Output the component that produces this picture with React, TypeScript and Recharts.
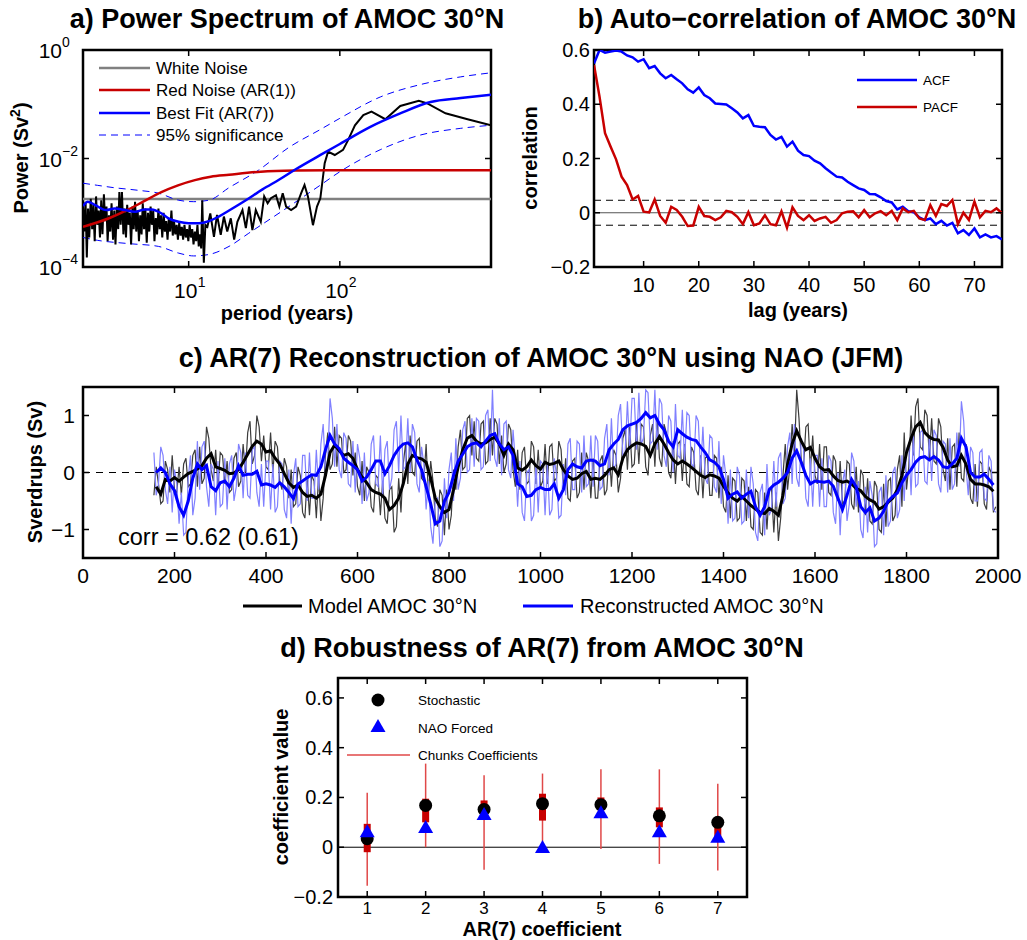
import React from "react";
import {
  ComposedChart,
  LineChart,
  Line,
  Scatter,
  XAxis,
  YAxis,
  ReferenceArea,
  ReferenceLine,
} from "recharts";

const FONT = '"Liberation Sans", Arial, Helvetica, sans-serif';
const MINUS = "\u2212";
const BLUE = "#0000ff";
const RED = "#c80000";

// ---------- a) power spectrum ----------
const specPeriod = [
  2.0, 2.04, 2.08, 2.12, 2.16, 2.2, 2.25, 2.3, 2.34, 2.39, 2.44, 2.49, 2.54, 2.59, 2.64, 2.69, 2.75, 2.8, 2.86, 2.91,
  2.97, 3.03, 3.09, 3.16, 3.22, 3.28, 3.35, 3.42, 3.48, 3.55, 3.62, 3.7, 3.77, 3.85, 3.92, 4.0, 4.08, 4.16, 4.25, 4.33,
  4.42, 4.5, 4.6, 4.69, 4.78, 4.88, 4.97, 5.07, 5.17, 5.28, 5.38, 5.49, 5.6, 5.71, 5.83, 5.94, 6.06, 6.18, 6.31, 6.43,
  6.56, 6.69, 6.83, 6.96, 7.1, 7.25, 7.39, 7.54, 7.69, 7.85, 8.0, 8.16, 8.33, 8.49, 8.66, 8.84, 9.01, 9.19, 9.38, 9.57,
  9.76, 9.95, 10.15, 10.35, 10.56, 10.77, 10.99, 11.21, 11.43, 11.66, 11.9, 12.1, 12.3, 12.6, 12.9,
  13.3, 13.9, 14.7, 15.4, 16.3, 17.1, 18.0, 19.0, 20.0, 21.0, 22.7, 23.9, 25.1, 26.4, 27.8, 30.0, 31.6, 33.3, 35.0, 37.8,
  39.8, 41.9, 44.1, 47.6, 51.4, 55.5, 58.4, 61.5, 66.4, 70.6, 74.3,
  79.4, 83.6, 92.6, 105, 113.6, 125.9, 143, 162, 200, 251, 333, 379, 500, 700, 1000,
];
const specPower = [
  1.3e-3, 4.5e-4, 1.6e-3, 1.5e-4, 1.2e-3, 3.5e-4, 1.8e-3, 5e-4, 1.4e-3, 3e-4, 2e-3, 6e-4, 1.1e-3, 3.5e-4, 1.7e-3, 4e-4, 2.2e-3, 7e-4, 1.3e-3, 3e-4,
  9e-4, 4.5e-4, 1.5e-3, 3.2e-4, 1.1e-3, 2.6e-4, 1.3e-3, 5e-4, 2.4e-3, 6e-4, 2.4e-3, 4e-4, 1.2e-3, 3.5e-4, 1.4e-3, 6e-4, 1e-3, 2.6e-4, 1.3e-3, 5e-4,
  1.6e-3, 4.5e-4, 1.1e-3, 3e-4, 9e-4, 4e-4, 1.5e-3, 5e-4, 1.2e-3, 2.8e-4, 1e-3, 4.5e-4, 1.3e-3, 6e-4, 1.1e-3, 3e-4, 8e-4, 4e-4, 1.2e-3, 5e-4,
  9e-4, 3.5e-4, 1e-3, 4.5e-4, 7e-4, 3.2e-4, 8e-4, 4.5e-4, 1.1e-3, 3.8e-4, 7e-4, 4e-4, 6e-4, 3.2e-4, 6.5e-4, 3.8e-4, 5.5e-4, 3.2e-4, 6e-4, 3.5e-4,
  5e-4, 3e-4, 6e-4, 3.5e-4, 5e-4, 2.6e-4, 4.5e-4, 3e-4, 6e-4, 2.4e-4, 4e-4, 2.2e-4, 1.7e-3, 1.2e-4, 6e-4,
  5.5e-4, 9.7e-4, 3.6e-4, 9.1e-4, 3.9e-4, 8.5e-4, 4.5e-4, 7.9e-4, 3.2e-4, 6.8e-4, 1.12e-3, 5.2e-4, 1.3e-3, 4.8e-4, 1.12e-3, 6.8e-4, 2.0e-3, 1.5e-3, 1.85e-3, 2.1e-3,
  1.3e-3, 2.3e-3, 1.3e-3, 1.12e-3, 1.3e-3, 2.3e-3, 3.25e-3, 2.0e-3, 5.9e-4, 1.3e-3, 1.85e-3,
  8.2e-3, 1.34e-2, 1.16e-2, 1.44e-2, 2.2e-2, 4.1e-2, 6.3e-2, 7.3e-2, 5.3e-2, 9.3e-2, 0.116, 0.104, 0.068, 0.053, 0.041,
];
const whitePeriod = [2, 1000];
const whitePower = [1.8e-3, 1.8e-3];
const redPeriod = [2, 3, 4, 5, 6.6, 8.5, 11, 14, 18.5, 30, 50, 100, 1000];
const redPower = [5.5e-4, 8e-4, 1.15e-3, 1.6e-3, 2.4e-3, 3.2e-3, 4e-3, 4.6e-3, 5.0e-3, 5.7e-3, 6.0e-3, 6.1e-3, 6.1e-3];
const fitPeriod = [2.0, 2.15, 2.39, 2.85, 3.24, 3.79, 4.41, 5.14, 5.7, 6.5, 7.36, 8.58, 10, 11.7, 13.6, 15.8, 18.5, 23.9, 30.8, 39.8, 51.4, 74, 100, 158, 251, 398, 631, 1000];
const fitPower = [1.33e-3, 1.6e-3, 1.4e-3, 1.12e-3, 1.2e-3, 1.12e-3, 1.04e-3, 1.15e-3, 1.15e-3, 1.0e-3, 7.9e-4, 6.8e-4, 6.4e-4, 6.4e-4, 7e-4, 8.5e-4, 1.1e-3, 1.7e-3, 2.7e-3, 4.1e-3, 6.4e-3, 1.15e-2, 1.85e-2, 3.8e-2, 6.8e-2, 0.11, 0.13, 0.15];
const upperPeriod = [2, 2.5, 3.2, 4.6, 6.3, 8.6, 10.8, 13.6, 18.5, 29, 46, 74, 100, 185, 340, 631, 1000];
const upperPower = [3.5e-3, 3.2e-3, 2.9e-3, 2.6e-3, 2.3e-3, 1.7e-3, 1.6e-3, 1.7e-3, 2.9e-3, 6.1e-3, 1.6e-2, 3.4e-2, 5.5e-2, 0.136, 0.23, 0.32, 0.38];
const lowerPeriod = [2, 2.5, 4, 6.3, 8.6, 10.8, 13.6, 18.5, 25, 46, 74, 100, 185, 340, 631, 1000];
const lowerPower = [3.5e-4, 3.1e-4, 2.7e-4, 2.4e-4, 1.8e-4, 1.6e-4, 1.7e-4, 2.4e-4, 4.2e-4, 1.3e-3, 3.2e-3, 5.7e-3, 1.45e-2, 2.7e-2, 3.6e-2, 4.1e-2];

// ---------- b) auto-correlation ----------
const lags = Array.from({ length: 75 }, (_, i) => i + 1);
const acf = [
  0.55, 0.6, 0.59, 0.594, 0.598, 0.594, 0.58, 0.573, 0.557, 0.566,
  0.533, 0.541, 0.514, 0.496, 0.508, 0.492, 0.477, 0.455, 0.443, 0.462,
  0.434, 0.422, 0.403, 0.401, 0.399, 0.385, 0.37, 0.348, 0.36, 0.32,
  0.317, 0.315, 0.287, 0.27, 0.28, 0.244, 0.262, 0.229, 0.213, 0.209,
  0.192, 0.182, 0.164, 0.148, 0.133, 0.13, 0.114, 0.102, 0.09, 0.084,
  0.069, 0.068, 0.057, 0.043, 0.038, 0.012, 0.022, 0.006, 0.002, -0.017,
  -0.027, -0.021, -0.042, -0.03, -0.047, -0.037, -0.076, -0.064, -0.082, -0.058,
  -0.091, -0.08, -0.091, -0.086, -0.098,
];
const pacf = [
  0.545, 0.428, 0.293, 0.244, 0.197, 0.133, 0.102, 0.049, 0.062, 0.004,
  0.001, 0.049, -0.012, -0.037, 0.022, 0.01, -0.015, -0.049, -0.047, 0.022,
  -0.012, -0.015, -0.027, -0.017, 0.007, 0.002, -0.015, -0.042, 0.002, -0.046,
  -0.039, -0.009, -0.042, -0.046, 0.005, -0.055, 0.02, -0.012, -0.027, -0.009,
  -0.03, -0.021, -0.015, -0.037, -0.027, -0.002, 0.004, 0.005, -0.017, 0.01,
  -0.017, -0.002, 0.006, -0.009, 0.007, -0.027, 0.016, 0.002, 0.007, -0.021,
  -0.027, 0.028, -0.012, 0.032, 0.025, 0.047, -0.042, 0, -0.027, 0.041,
  -0.017, 0.007, 0.002, 0.016, -0.002,
];
const sigLevel = 0.046;

// ---------- c) reconstruction ----------
const annualYears = Array.from({ length: 369 }, (_, i) => 155 + 5 * i);
const smoothYears = Array.from({ length: 184 }, (_, i) => 160 + 10 * i);
const modelAnnual = [
  -0.4, 0.1, -0.2, -0.55, -0.5, 0.2, 0.05, -0.35, 0.3, -0.3, -0.35, 0.1, -0.4, 0.15, 0.25, -0.25, -0.2, 0.3, 0.4, -0.25,
  0.45, -0.2, -0.1, 0.8, 0.6, 0.05, -0.15, 0.4, -0.25, 0.35, 0.3, -0.2, 0.2, -0.35, -0.3, 0.25, 0.35, -0.25, -0.15, 0.5,
  0.0, 0.7, 0.9, 0.15, 0.3, 1.0, 0.8, 0.2, 0.65, 0.1, 0.05, 0.7, 0.0, 0.55, 0.45, -0.15, -0.3, 0.25, 0.1, -0.45,
  0.05, -0.6, -0.55, 0.1, -0.05, -0.7, -0.8, -0.1, -0.75, -0.05, -0.15, -0.8, -0.05, -0.85, -0.45, 0.3, 0.7, 0.05, 0.15, 0.8,
  0.1, 0.65, 0.6, 0.0, 0.05, 0.65, 0.55, -0.05, 0.35, -0.25, -0.4, 0.2, -0.5, 0.1, 0.0, -0.6, -0.7, -0.05, -0.1, -0.75,
  -0.15, -0.8, -0.9, -0.3, -0.25, -1.05, -0.95, -0.1, -0.7, 0.15, 0.5, -0.2, 0.65, 0.0, -0.05, 0.55, 0.6, -0.1, -0.15, 0.5,
  -0.4, 0.2, -0.15, -0.8, -0.95, -0.3, -0.4, -1.1, -0.3, -1.0, -0.75, 0.05, -0.3, 0.45, 0.75, 0.05, 0.1, 0.95, 1.0, 0.3,
  0.9, 0.25, 0.2, 0.85, 0.9, 0.15, 0.2, 0.95, 0.3, 0.95, 0.85, 0.15, 0.65, 0.0, 0.15, 0.85, 0.75, 0.05, -0.25, 0.4,
  -0.3, 0.35, 0.45, -0.2, -0.15, 0.55, 0.45, -0.2, 0.4, -0.25, -0.15, 0.5, -0.2, 0.45, 0.5, -0.15, -0.1, 0.55, 0.4, -0.3,
  0.25, -0.45, -0.5, 0.2, 0.25, -0.45, -0.35, 0.35, -0.3, 0.35, 0.2, -0.45, 0.25, -0.45, -0.45, 0.2, 0.3, -0.4, -0.3, 0.4,
  -0.25, 0.4, 0.3, -0.35, -0.1, 0.6, 0.75, 0.05, 0.8, 0.1, 0.15, 0.85, 0.15, 0.85, 0.8, 0.1, -0.05, 0.65, 0.85, 0.1,
  0.95, 0.25, 0.1, 0.85, 0.7, 0.0, -0.1, 0.55, -0.2, 0.5, 0.55, -0.15, 0.5, -0.2, -0.25, 0.45, 0.35, -0.3, -0.4, 0.3,
  -0.45, 0.25, 0.3, -0.4, -0.4, 0.3, 0.25, -0.45, 0.1, -0.6, -0.7, -0.05, -0.8, -0.1, -0.15, -0.85, -0.8, -0.1, -0.15, -0.85,
  -0.25, -0.95, -1.0, -0.3, -0.35, -1.05, -1.1, -0.35, -1.0, -0.3, -0.3, -1.05, -0.35, -1.2, -0.8, -0.05, 0.5, -0.3, 0.1, 0.85,
  0.3, 1.45, 0.95, 0.2, 0.1, 0.8, 0.85, 0.05, 0.65, -0.05, -0.2, 0.5, -0.3, 0.45, 0.45, -0.35, -0.4, 0.3, 0.2, -0.5,
  0.2, -0.55, -0.5, 0.2, 0.15, -0.55, -0.65, 0.1, -0.7, 0.05, -0.05, -0.75, -0.1, -0.85, -0.9, -0.15, -0.25, -1.0, -1.05, -0.2,
  -0.95, -0.15, -0.1, -0.85, -0.75, 0.05, 0.3, -0.6, 0.7, -0.3, 0.1, 1.0, 0.3, 1.15, 1.3, 0.45, 0.4, 1.1, 1.0, 0.25,
  0.95, 0.2, 0.15, 0.95, 0.8, 0.05, -0.15, 0.6, -0.3, 0.45, 0.5, -0.25, 0.7, -0.1, -0.15, 0.5, 0.25, -0.45, -0.55, 0.15,
  -0.6, 0.2, 0.15, -0.55, -0.65, 0.1, 0.0, -0.7, -0.6,
];
const reconAnnual = [
  0.35, -0.4, -0.2, 0.45, 0.3, -0.3, -0.55, 0.1, -0.7, 0.05, -0.2, -0.9, -0.35, -1.1, -1.05, -0.1, 0.3, -0.75, -0.45, 0.55,
  -0.3, 0.45, 0.55, -0.25, -0.6, 0.15, 0.05, -0.75, 0.2, -0.6, -0.55, 0.25, -0.65, 0.15, 0.3, -0.5, -0.25, 0.5, 0.35, -0.45,
  0.35, -0.4, -0.45, 0.4, 0.45, -0.35, -0.6, 0.15, -0.6, 0.2, 0.2, -0.65, 0.15, -0.7, -0.6, 0.2, 0.15, -0.65, -0.8, 0.05,
  -0.9, -0.05, 0.25, -0.6, -0.55, 0.3, 0.3, -0.5, 0.35, -0.45, -0.45, 0.4, -0.3, 0.5, 0.85, 0.0, 0.25, 1.3, 0.95, 0.1,
  0.85, 0.05, -0.1, 0.7, 0.6, -0.2, -0.25, 0.55, -0.35, 0.5, 0.25, -0.55, 0.35, -0.5, -0.35, 0.5, 0.65, -0.2, -0.25, 0.65,
  -0.4, 0.4, 0.55, -0.3, -0.1, 0.75, 0.9, 0.0, 1.0, 0.05, 0.1, 0.95, 0.0, 0.85, 0.7, -0.2, -0.35, 0.45, 0.15, -0.65,
  -0.15, -0.95, -1.25, -0.5, -0.45, -1.3, -1.2, -0.1, -0.8, 0.05, 0.35, -0.5, 0.6, -0.3, -0.1, 0.75, 0.9, 0.0, 0.05, 0.95,
  0.1, 0.95, 0.9, 0.05, 0.1, 1.0, 1.1, 0.2, 1.45, 0.25, 0.1, 0.95, -0.05, 0.85, 0.9, 0.05, -0.1, 0.75, 0.2, -0.6,
  0.2, -0.7, -0.85, 0.0, 0.05, -0.85, -0.75, 0.15, -0.7, 0.2, 0.15, -0.75, 0.15, -0.75, -0.65, 0.25, -0.05, -0.8, -0.75, 0.15,
  -0.4, 0.5, 0.6, -0.3, -0.3, 0.55, 0.5, -0.35, 0.65, -0.25, -0.2, 0.65, -0.25, 0.65, 0.55, -0.3, -0.25, 0.6, 0.85, -0.05,
  0.95, 0.05, 0.15, 1.0, 1.2, 0.3, 0.35, 1.25, 0.4, 1.3, 1.3, 0.4, 1.4, 0.5, 0.6, 1.45, 1.4, 0.5, 0.55, 1.45,
  0.4, 1.3, 1.2, 0.3, 0.1, 1.0, 0.9, 0.0, 1.2, 0.3, 0.25, 1.1, 0.2, 1.05, 1.0, 0.15, 0.1, 1.0, 0.9, 0.0,
  0.8, -0.1, -0.2, 0.65, 0.6, -0.25, -0.35, 0.55, -0.55, 0.3, -0.05, -0.9, 0.05, -0.85, -0.8, 0.1, -0.05, -0.9, -0.85, 0.05,
  -0.8, 0.1, -0.2, -1.05, -1.2, -0.35, -0.2, -1.1, 0.15, -0.75, -0.65, 0.2, -0.6, 0.25, 0.35, -0.55, -0.45, 0.45, 0.7, -0.2,
  0.85, -0.1, -0.25, 0.6, 0.4, -0.45, -0.6, 0.25, -0.6, 0.3, 0.3, -0.6, 0.25, -0.6, -0.6, 0.3, 0.2, -0.7, -0.9, 0.0,
  -1.1, -0.2, 0.05, -0.85, -0.55, 0.35, 0.2, -0.6, -0.15, -1.0, -1.15, -0.25, -1.05, -0.15, -0.4, -1.3, -1.25, -0.35, -0.25, -1.1,
  -0.05, -0.95, -0.85, 0.0, 0.1, -0.8, -0.65, 0.3, -0.5, 0.4, 0.5, -0.4, 0.65, -0.25, -0.2, 0.7, 0.75, -0.15, -0.2, 0.65,
  -0.15, 0.75, 0.65, -0.2, -0.35, 0.55, 0.5, -0.35, 0.6, -0.3, -0.2, 0.7, 0.1, 1.25, 0.9, 0.1, -0.4, 0.45, 0.35, -0.5,
  -0.5, 0.35, 0.4, -0.45, -0.5, 0.3, 0.2, -0.65, -0.7,
];
const modelSmooth = [
  -0.25, -0.38, -0.12, -0.15, -0.09, -0.15, -0.08, -0.02, 0.02, 0.06,
  0.12, 0.25, 0.33, 0.1, 0.07, 0.04, -0.02, -0.01, 0.05, 0.18,
  0.32, 0.46, 0.55, 0.5, 0.36, 0.38, 0.25, 0.15, -0.02, -0.18,
  -0.26, -0.22, -0.35, -0.42, -0.4, -0.45, -0.38, -0.05, 0.35, 0.48,
  0.38, 0.3, 0.33, 0.25, 0.05, -0.08, -0.18, -0.3, -0.35, -0.38,
  -0.45, -0.65, -0.58, -0.45, -0.2, 0.15, 0.3, 0.26, 0.24, 0.18,
  -0.1, -0.45, -0.6, -0.7, -0.65, -0.3, 0.1, 0.4, 0.6, 0.65,
  0.55, 0.5, 0.52, 0.58, 0.62, 0.5, 0.3, 0.5, 0.4, 0.08,
  0.04, 0.1, 0.22, 0.12, 0.06, 0.18, 0.14, 0.16, 0.2, 0.05,
  -0.06, -0.12, -0.1, -0.02, 0.02, -0.12, -0.1, -0.12, -0.05, 0.05,
  0.08, -0.04, 0.25, 0.4, 0.47, 0.52, 0.5, 0.46, 0.3, 0.5,
  0.63, 0.5, 0.35, 0.22, 0.15, 0.2, 0.15, 0.09, 0.02, -0.05,
  -0.09, -0.04, -0.06, -0.1, -0.24, -0.36, -0.45, -0.5, -0.42, -0.5,
  -0.58, -0.64, -0.7, -0.72, -0.63, -0.68, -0.75, -0.4, 0.15, 0.5,
  0.73, 0.55, 0.4, 0.44, 0.25, 0.1, 0.04, 0.05, -0.06, -0.14,
  -0.17, -0.15, -0.2, -0.28, -0.32, -0.42, -0.48, -0.52, -0.64, -0.6,
  -0.52, -0.45, -0.3, -0.05, 0.35, 0.6, 0.8, 0.88, 0.7, 0.62,
  0.58, 0.57, 0.44, 0.22, 0.1, 0.12, 0.3, 0.15, -0.12, -0.2,
  -0.2, -0.22, -0.25, -0.33,
];
const reconSmooth = [
  0.0, 0.08, 0.0, -0.2, -0.32, -0.6, -0.75, -0.5, -0.1, 0.15,
  0.05, 0.12, -0.25, -0.32, -0.18, -0.15, -0.25, -0.1, 0.12, -0.05,
  -0.03, -0.03, 0.02, -0.22, -0.2, -0.22, -0.26, -0.18, -0.25, -0.35,
  -0.46, -0.2, -0.15, -0.09, -0.04, -0.05, 0.1, 0.4, 0.65, 0.5,
  0.42, 0.25, 0.18, 0.12, 0.05, -0.15, -0.08, 0.05, 0.2, 0.2,
  -0.02, 0.12, 0.3, 0.42, 0.5, 0.52, 0.45, 0.22, 0.05, -0.25,
  -0.55, -0.9, -0.85, -0.5, -0.35, -0.05, 0.2, 0.32, 0.45, 0.5,
  0.52, 0.45, 0.55, 0.65, 0.68, 0.5, 0.4, 0.45, 0.3, -0.2,
  -0.25, -0.42, -0.4, -0.3, -0.26, -0.3, -0.3, -0.2, -0.45, -0.3,
  0.05, 0.15, 0.1, 0.08, 0.2, 0.22, 0.2, 0.12, 0.15, 0.4,
  0.5, 0.58, 0.75, 0.82, 0.85, 0.88, 0.95, 1.05, 0.96, 1.0,
  0.85, 0.75, 0.55, 0.45, 0.75, 0.68, 0.62, 0.58, 0.56, 0.45,
  0.35, 0.22, 0.18, 0.1, -0.12, -0.45, -0.38, -0.34, -0.45, -0.38,
  -0.33, -0.6, -0.75, -0.6, -0.3, -0.22, -0.17, -0.1, 0.0, 0.25,
  0.38, 0.18, -0.05, -0.2, -0.15, -0.16, -0.17, -0.15, -0.24, -0.45,
  -0.65, -0.4, -0.12, -0.25, -0.6, -0.7, -0.62, -0.85, -0.8, -0.68,
  -0.5, -0.42, -0.36, -0.18, -0.05, 0.05, 0.18, 0.26, 0.28, 0.22,
  0.28, 0.22, 0.1, 0.08, 0.15, 0.25, 0.6, 0.45, 0.0, -0.08,
  -0.08, -0.03, -0.12, -0.22,
];

// ---------- d) robustness ----------
const coefIdx = [1, 2, 3, 4, 5, 6, 7];
const stochastic = [0.034, 0.168, 0.152, 0.175, 0.171, 0.126, 0.1];
const naoForced = [0.06, 0.077, 0.13, -0.003, 0.137, 0.06, 0.038];
const chunkMin = [-0.155, 0.0, -0.09, -0.007, -0.007, -0.067, -0.094];
const chunkMax = [0.219, 0.336, 0.289, 0.296, 0.313, 0.313, 0.255];
const chunkLow = [-0.02, 0.1, 0.12, 0.107, 0.148, 0.08, 0.034];
const chunkHigh = [0.094, 0.195, 0.188, 0.215, 0.2, 0.16, 0.12];

const pts = (xs: number[], ys: number[]) => xs.map((x, i) => ({ x, y: ys[i] }));

const PAD_L = 70;
const PAD_T = 20;
const PAD_B = 44;
const TICK = "#000";

type Lbl = (v: number) => React.ReactNode;

function makeXTick(plotH: number, size: number, base: number, label: Lbl) {
  return (props: any) => {
    const { x, y, payload } = props;
    return (
      <g>
        <line x1={x} x2={x} y1={y} y2={y - 6} stroke={TICK} strokeWidth={1.5} />
        <line x1={x} x2={x} y1={y - plotH} y2={y - plotH + 6} stroke={TICK} strokeWidth={1.5} />
        <text x={x} y={y + base} textAnchor="middle" fontSize={size} fill="#000" fontFamily={FONT}>
          {label(payload.value)}
        </text>
      </g>
    );
  };
}

function makeYTick(plotW: number, size: number, gap: number, label: Lbl) {
  return (props: any) => {
    const { x, y, payload } = props;
    return (
      <g>
        <line x1={x} x2={x + 6} y1={y} y2={y} stroke={TICK} strokeWidth={1.5} />
        <line x1={x + plotW} x2={x + plotW - 6} y1={y} y2={y} stroke={TICK} strokeWidth={1.5} />
        <text x={x - gap} y={y + size * 0.35} textAnchor="end" fontSize={size} fill="#000" fontFamily={FONT}>
          {label(payload.value)}
        </text>
      </g>
    );
  };
}

const num = (v: number) => (v < 0 ? MINUS + Math.abs(v) : String(v));

function Frame({ x1, x2, y1, y2 }: { x1: number; x2: number; y1: number; y2: number }) {
  return (
    <ReferenceArea x1={x1} x2={x2} y1={y1} y2={y2} fill="none" fillOpacity={0} stroke="#000" strokeWidth={2.5} ifOverflow="visible" />
  );
}

function PanelA() {
  const L = 83, T = 50, W = 408, H = 217, R = 12;
  const xTick = (props: any) => {
    const { x, y, payload } = props;
    const e = Math.round(Math.log10(payload.value));
    return (
      <g>
        <line x1={x} x2={x} y1={y} y2={y - 6} stroke={TICK} strokeWidth={1.5} />
        <line x1={x} x2={x} y1={y - H} y2={y - H + 6} stroke={TICK} strokeWidth={1.5} />
        <text x={x - 3} y={y + 31} textAnchor="middle" fontSize={21} fontFamily={FONT}>10</text>
        <text x={x + 9} y={y + 20} textAnchor="start" fontSize={14} fontFamily={FONT}>{String(e)}</text>
      </g>
    );
  };
  const yTick = (props: any) => {
    const { x, y, payload } = props;
    const e = Math.round(Math.log10(payload.value));
    return (
      <g>
        <line x1={x} x2={x + 6} y1={y} y2={y} stroke={TICK} strokeWidth={1.5} />
        <line x1={x + W} x2={x + W - 6} y1={y} y2={y} stroke={TICK} strokeWidth={1.5} />
        <text x={x - 21} y={y + 8} textAnchor="end" fontSize={21} fontFamily={FONT}>10</text>
        <text x={x - 21} y={y - 3} textAnchor="start" fontSize={14} fontFamily={FONT}>{e < 0 ? MINUS + Math.abs(e) : String(e)}</text>
      </g>
    );
  };
  return (
    <div style={{ position: "absolute", left: L - PAD_L, top: T - PAD_T }}>
      <LineChart width={W + PAD_L + R} height={H + PAD_T + PAD_B} margin={{ top: PAD_T, right: R, bottom: 0, left: 0 }}>
        <XAxis dataKey="x" type="number" scale="log" domain={[2, 1000]} allowDataOverflow ticks={[10, 100]} interval={0}
          height={PAD_B} tickSize={0} tickMargin={0} axisLine={false} tickLine={false} tick={xTick} />
        <YAxis type="number" scale="log" domain={[1e-4, 1]} allowDataOverflow ticks={[1e-4, 1e-2, 1]} interval={0}
          width={PAD_L} tickSize={0} tickMargin={0} axisLine={false} tickLine={false} tick={yTick} />
        <Line data={pts(whitePeriod, whitePower)} dataKey="y" stroke="#808080" strokeWidth={2.5} dot={false} activeDot={false} isAnimationActive={false} />
        <Line data={pts(upperPeriod, upperPower)} dataKey="y" stroke={BLUE} strokeWidth={1} strokeDasharray="7 5" dot={false} activeDot={false} isAnimationActive={false} type="monotone" />
        <Line data={pts(lowerPeriod, lowerPower)} dataKey="y" stroke={BLUE} strokeWidth={1} strokeDasharray="7 5" dot={false} activeDot={false} isAnimationActive={false} type="monotone" />
        <Line data={pts(specPeriod, specPower)} dataKey="y" stroke="#000" strokeWidth={2} dot={false} activeDot={false} isAnimationActive={false} />
        <Line data={pts(redPeriod, redPower)} dataKey="y" stroke={RED} strokeWidth={2.5} dot={false} activeDot={false} isAnimationActive={false} type="monotone" />
        <Line data={pts(fitPeriod, fitPower)} dataKey="y" stroke={BLUE} strokeWidth={2.5} dot={false} activeDot={false} isAnimationActive={false} type="monotone" />
        <Frame x1={2} x2={1000} y1={1e-4} y2={1} />
      </LineChart>
    </div>
  );
}

function PanelB() {
  const L = 594, T = 50, W = 408, H = 217, R = 12;
  const rows = lags.map((lag, i) => ({ x: lag, acf: acf[i], pacf: pacf[i] }));
  return (
    <div style={{ position: "absolute", left: L - PAD_L, top: T - PAD_T }}>
      <LineChart data={rows} width={W + PAD_L + R} height={H + PAD_T + PAD_B} margin={{ top: PAD_T, right: R, bottom: 0, left: 0 }}>
        <XAxis dataKey="x" type="number" domain={[1, 75]} allowDataOverflow ticks={[10, 20, 30, 40, 50, 60, 70]} interval={0}
          height={PAD_B} tickSize={0} tickMargin={0} axisLine={false} tickLine={false} tick={makeXTick(H, 20, 25, num)} />
        <YAxis type="number" domain={[-0.2, 0.6]} allowDataOverflow ticks={[-0.2, 0, 0.2, 0.4, 0.6]} interval={0}
          width={PAD_L} tickSize={0} tickMargin={0} axisLine={false} tickLine={false} tick={makeYTick(W, 20, 4, num)} />
        <ReferenceLine y={0} stroke="#555" strokeWidth={1} />
        <ReferenceLine y={sigLevel} stroke="#000" strokeWidth={1} strokeDasharray="7 5" />
        <ReferenceLine y={-sigLevel} stroke="#000" strokeWidth={1} strokeDasharray="7 5" />
        <Line dataKey="acf" stroke={BLUE} strokeWidth={2.5} dot={false} activeDot={false} isAnimationActive={false} />
        <Line dataKey="pacf" stroke={RED} strokeWidth={2.5} dot={false} activeDot={false} isAnimationActive={false} />
        <Frame x1={1} x2={75} y1={-0.2} y2={0.6} />
      </LineChart>
    </div>
  );
}

function PanelC() {
  const L = 83, T = 387, W = 915, H = 171, R = 26;
  return (
    <div style={{ position: "absolute", left: L - PAD_L, top: T - PAD_T }}>
      <LineChart width={W + PAD_L + R} height={H + PAD_T + PAD_B} margin={{ top: PAD_T, right: R, bottom: 0, left: 0 }}>
        <XAxis dataKey="x" type="number" domain={[0, 2000]} allowDataOverflow ticks={[0, 200, 400, 600, 800, 1000, 1200, 1400, 1600, 1800, 2000]} interval={0}
          height={PAD_B} tickSize={0} tickMargin={0} axisLine={false} tickLine={false} tick={makeXTick(H, 21, 25, num)} />
        <YAxis type="number" domain={[-1.5, 1.5]} allowDataOverflow ticks={[-1, 0, 1]} interval={0}
          width={PAD_L} tickSize={0} tickMargin={0} axisLine={false} tickLine={false} tick={makeYTick(W, 21, 8, num)} />
        <ReferenceLine y={0} stroke="#000" strokeWidth={1} strokeDasharray="7 6" />
        <Line data={pts(annualYears, modelAnnual)} dataKey="y" stroke="#3c3c3c" strokeWidth={1.2} dot={false} activeDot={false} isAnimationActive={false} />
        <Line data={pts(annualYears, reconAnnual)} dataKey="y" stroke="#8080ff" strokeWidth={1.2} dot={false} activeDot={false} isAnimationActive={false} />
        <Line data={pts(smoothYears, modelSmooth)} dataKey="y" stroke="#000" strokeWidth={3} dot={false} activeDot={false} isAnimationActive={false} />
        <Line data={pts(smoothYears, reconSmooth)} dataKey="y" stroke={BLUE} strokeWidth={3} dot={false} activeDot={false} isAnimationActive={false} />
        <Frame x1={0} x2={2000} y1={-1.5} y2={1.5} />
      </LineChart>
    </div>
  );
}

const dotShape = (p: any) => <circle cx={p.cx} cy={p.cy} r={6.5} fill="#000" />;
const triShape = (p: any) => (
  <polygon points={`${p.cx},${p.cy - 8} ${p.cx - 7.5},${p.cy + 5} ${p.cx + 7.5},${p.cy + 5}`} fill={BLUE} />
);

function PanelD() {
  const L = 338, T = 678, W = 409, H = 219, R = 12;
  return (
    <div style={{ position: "absolute", left: L - PAD_L, top: T - PAD_T }}>
      <ComposedChart width={W + PAD_L + R} height={H + PAD_T + PAD_B} margin={{ top: PAD_T, right: R, bottom: 0, left: 0 }}>
        <XAxis dataKey="x" type="number" domain={[0.5, 7.5]} allowDataOverflow ticks={coefIdx} interval={0}
          height={PAD_B} tickSize={0} tickMargin={0} axisLine={false} tickLine={false} tick={makeXTick(H, 17, 17, num)} />
        <YAxis dataKey="y" type="number" domain={[-0.2, 0.68]} allowDataOverflow ticks={[-0.2, 0, 0.2, 0.4, 0.6]} interval={0}
          width={PAD_L} tickSize={0} tickMargin={0} axisLine={false} tickLine={false} tick={makeYTick(W, 20, 5, num)} />
        <ReferenceLine y={0} stroke="#000" strokeWidth={1} />
        {coefIdx.map((c, i) => (
          <Line key={`r${c}`} data={[{ x: c, y: chunkMin[i] }, { x: c, y: chunkMax[i] }]} dataKey="y" stroke="#e04848" strokeWidth={1.5}
            dot={false} activeDot={false} isAnimationActive={false} />
        ))}
        {coefIdx.map((c, i) => (
          <Line key={`q${c}`} data={[{ x: c, y: chunkLow[i] }, { x: c, y: chunkHigh[i] }]} dataKey="y" stroke={RED} strokeWidth={7}
            strokeLinecap="butt" dot={false} activeDot={false} isAnimationActive={false} />
        ))}
        <Scatter data={pts(coefIdx, stochastic)} shape={dotShape} isAnimationActive={false} />
        <Scatter data={pts(coefIdx, naoForced)} shape={triShape} isAnimationActive={false} />
        <Frame x1={0.5} x2={7.5} y1={-0.2} y2={0.68} />
      </ComposedChart>
    </div>
  );
}

function Overlay() {
  const title = { fontSize: 27, fontWeight: 700, textAnchor: "middle" as const };
  const axl = { fontSize: 20, fontWeight: 700, textAnchor: "middle" as const };
  return (
    <svg width={1027} height={940} style={{ position: "absolute", left: 0, top: 0, pointerEvents: "none" }} fontFamily={FONT}>
      <text x={287} y={28} {...title}>a) Power Spectrum of AMOC 30°N</text>
      <text x={797} y={28} {...title}>b) Auto{MINUS}correlation of AMOC 30°N</text>
      <text x={541} y={367} {...title}>c) AR(7) Reconstruction of AMOC 30°N using NAO (JFM)</text>
      <text x={542} y={657} {...title}>d) Robustness of AR(7) from AMOC 30°N</text>

      <text x={287} y={320} {...axl}>period (years)</text>
      <text x={798} y={317} {...axl}>lag (years)</text>
      <text x={542} y={936} {...axl}>AR(7) coefficient</text>
      <text transform="translate(28,158) rotate(-90)" {...axl}>
        Power (Sv<tspan dy={-8} fontSize={14}>2</tspan><tspan dy={8}>)</tspan>
      </text>
      <text transform="translate(537,158) rotate(-90)" {...axl}>correlation</text>
      <text transform="translate(42,472) rotate(-90)" {...axl}>Sverdrups (Sv)</text>
      <text transform="translate(288,787) rotate(-90)" {...axl}>coefficient value</text>

      {/* legend a */}
      <line x1={99} x2={150} y1={68} y2={68} stroke="#808080" strokeWidth={2.5} />
      <line x1={99} x2={150} y1={90} y2={90} stroke={RED} strokeWidth={2.5} />
      <line x1={99} x2={150} y1={113} y2={113} stroke={BLUE} strokeWidth={2.5} />
      <line x1={99} x2={150} y1={135} y2={135} stroke={BLUE} strokeWidth={1} strokeDasharray="7 5" />
      <text x={156} y={74} fontSize={17}>White Noise</text>
      <text x={156} y={96} fontSize={17}>Red Noise (AR(1))</text>
      <text x={156} y={119} fontSize={17}>Best Fit (AR(7))</text>
      <text x={156} y={141} fontSize={17}>95% significance</text>

      {/* legend b */}
      <line x1={857} x2={917} y1={80} y2={80} stroke={BLUE} strokeWidth={2.5} />
      <line x1={857} x2={917} y1={107} y2={107} stroke={RED} strokeWidth={2.5} />
      <text x={923} y={85} fontSize={13.5}>ACF</text>
      <text x={923} y={112} fontSize={13.5}>PACF</text>

      {/* annotation and legend c */}
      <text x={118} y={545} fontSize={23.5}>corr = 0.62 (0.61)</text>
      <line x1={243} x2={302} y1={606} y2={606} stroke="#000" strokeWidth={3} />
      <text x={308} y={613} fontSize={20}>Model AMOC 30°N</text>
      <line x1={523} x2={573} y1={606} y2={606} stroke={BLUE} strokeWidth={3} />
      <text x={580} y={613} fontSize={20}>Reconstructed AMOC 30°N</text>

      {/* legend d */}
      <circle cx={378} cy={700} r={6.5} fill="#000" />
      <polygon points="378,719 370.5,732 385.5,732" fill={BLUE} />
      <line x1={347} x2={410} y1={755} y2={755} stroke="#e04848" strokeWidth={1.5} />
      <text x={418} y={705} fontSize={13.5}>Stochastic</text>
      <text x={418} y={733} fontSize={13.5}>NAO Forced</text>
      <text x={418} y={760} fontSize={13.5}>Chunks Coefficients</text>
    </svg>
  );
}

export default function App() {
  return (
    <div style={{ position: "absolute", left: 0, top: 0, width: 1027, height: 940, background: "#fff", fontFamily: FONT }}>
      <PanelA />
      <PanelB />
      <PanelC />
      <PanelD />
      <Overlay />
    </div>
  );
}
